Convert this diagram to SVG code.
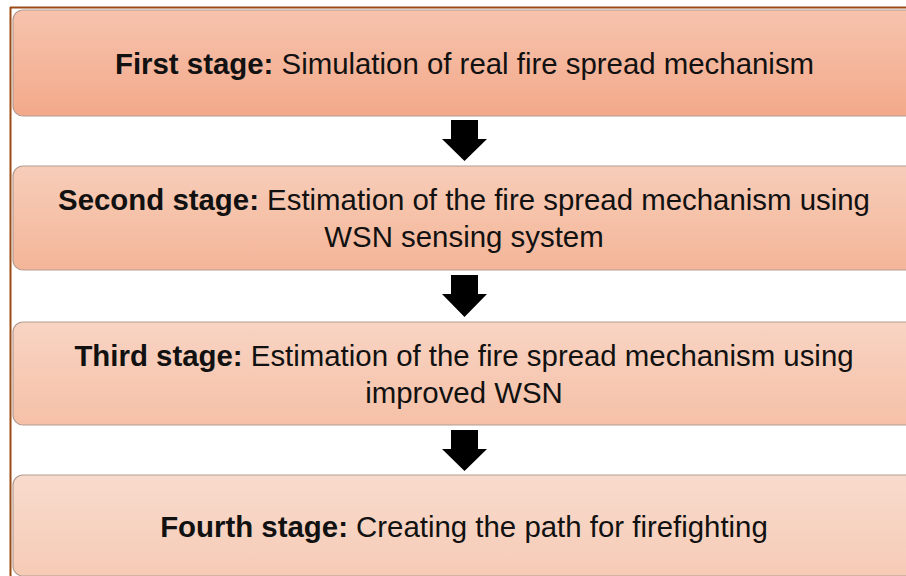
<svg xmlns="http://www.w3.org/2000/svg" width="906" height="576" viewBox="0 0 906 576">
<defs>
<linearGradient id="g1" x1="0" y1="0" x2="0" y2="1"><stop offset="0" stop-color="#f6c3ad"/><stop offset="1" stop-color="#f3a98a"/></linearGradient>
<linearGradient id="g2" x1="0" y1="0" x2="0" y2="1"><stop offset="0" stop-color="#f7cdb9"/><stop offset="1" stop-color="#f4b598"/></linearGradient>
<linearGradient id="g3" x1="0" y1="0" x2="0" y2="1"><stop offset="0" stop-color="#f8d4c3"/><stop offset="1" stop-color="#f5c0a7"/></linearGradient>
<linearGradient id="g4" x1="0" y1="0" x2="0" y2="1"><stop offset="0" stop-color="#f8dbcd"/><stop offset="1" stop-color="#f6cbb6"/></linearGradient>
</defs>
<style>
.box{stroke:#b49c92;stroke-width:1.2}
.t{font-family:"Liberation Sans",Arial,sans-serif;font-size:29.4px;fill:#111;text-anchor:middle}
.b{font-weight:bold}
.arrow{fill:#000}
</style>
<rect x="0" y="0" width="906" height="576" fill="#ffffff"/>
<g id="frame">
<line x1="10.5" y1="7" x2="10.5" y2="576" stroke="#9a4a14" stroke-width="2"/>
<line x1="10" y1="7.5" x2="906" y2="7.5" stroke="#9a4a14" stroke-width="2"/>
</g>
<g id="stage1">
<rect class="box" x="13" y="10" width="905" height="106" rx="10" fill="url(#g1)"/>
<text class="t" x="464.5" y="74"><tspan class="b">First stage:</tspan> Simulation of real fire spread mechanism</text>
</g>
<g id="stage2">
<rect class="box" x="13" y="166" width="905" height="104" rx="10" fill="url(#g2)"/>
<text class="t" x="464" y="210"><tspan class="b">Second stage:</tspan> Estimation of the fire spread mechanism using</text>
<text class="t" x="464" y="247">WSN sensing system</text>
</g>
<g id="stage3">
<rect class="box" x="13" y="322" width="905" height="103" rx="10" fill="url(#g3)"/>
<text class="t" x="464" y="366"><tspan class="b">Third stage:</tspan> Estimation of the fire spread mechanism using</text>
<text class="t" x="464" y="403">improved WSN</text>
</g>
<g id="stage4">
<rect class="box" x="13" y="475" width="905" height="101" rx="10" fill="url(#g4)"/>
<text class="t" x="464" y="537"><tspan class="b">Fourth stage:</tspan> Creating the path for firefighting</text>
</g>
<g id="connectors">
<polygon class="arrow" points="451,120 478,120 478,139 487,139 464.5,161 442,139 451,139"/>
<polygon class="arrow" points="451,275 478,275 478,294 487,294 464.5,317 442,294 451,294"/>
<polygon class="arrow" points="451,430 478,430 478,449 487,449 464.5,471 442,449 451,449"/>
</g>
</svg>
